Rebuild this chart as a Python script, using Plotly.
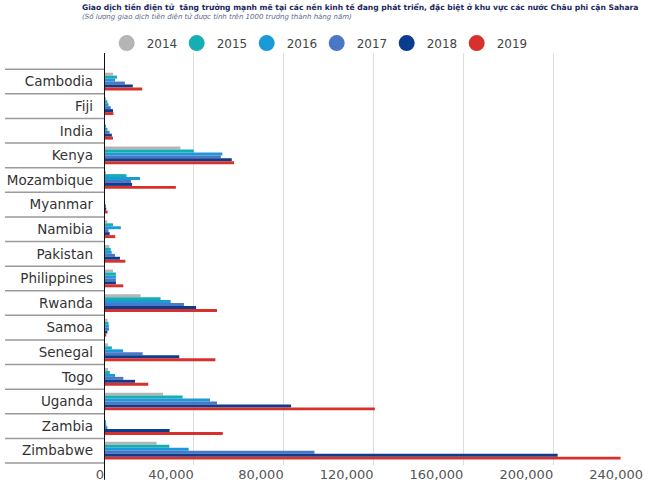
import plotly.graph_objects as go

countries = ["Cambodia", "Fiji", "India", "Kenya", "Mozambique", "Myanmar", "Namibia",
             "Pakistan", "Philippines", "Rwanda", "Samoa", "Senegal", "Togo", "Uganda",
             "Zambia", "Zimbabwe"]
years = ["2014", "2015", "2016", "2017", "2018", "2019"]

v2014 = [4000, 500, 300, 34000, 800, 0, 1500, 2400, 4000, 16300, 1500, 1800, 1800, 26300, 0, 23400]
v2015 = [5800, 1500, 800, 40000, 10000, 0, 4000, 3000, 5300, 25200, 2000, 3500, 2600, 35000, 500, 29100]
v2016 = [4900, 2000, 1500, 52700, 16000, 200, 7500, 3400, 5300, 29700, 2200, 8500, 4900, 47200, 1000, 37700]
v2017 = [9300, 3000, 2500, 52000, 12000, 500, 2000, 4900, 5300, 35600, 2200, 17200, 8600, 50300, 1500, 93700]
v2018 = [12800, 4000, 3500, 56900, 12500, 1000, 2500, 7100, 5300, 41000, 1500, 33500, 13800, 83300, 29200, 202000]
v2019 = [17000, 4200, 4000, 57900, 32000, 1600, 5000, 9500, 8600, 50300, 1000, 49600, 19700, 120600, 52900, 230000]
series = [v2014, v2015, v2016, v2017, v2018, v2019]

colors = ["#b5b5b5", "#17aeb3", "#1a9bd7", "#4a78c6", "#0b3c8e", "#d8302c"]

tick_vals = [0, 40000, 80000, 120000, 160000, 200000, 240000]
tick_text = ["0", "40,000", "80,000", "120,000", "160,000", "200,000", "240,000"]

title = ("Giao dịch tiền điện tử  tăng trưởng mạnh mẽ tại các nền kinh tế đang phát triển, "
         "đặc biệt ở khu vực các nước Châu phi cận Sahara")
subtitle = "(Số lượng giao dịch tiền điện tử được tính trên 1000 trưởng thành hàng năm)"

FONT = "DejaVu Sans"

fig = go.Figure()
for yr, vals, col in zip(years, series, colors):
    fig.add_trace(go.Bar(y=countries, x=vals, orientation="h", name=yr,
                         marker=dict(color=col, line=dict(width=0)), showlegend=False))
for yr, col in zip(years, colors):
    fig.add_trace(go.Scatter(x=[None], y=[None], mode="markers", name=yr,
                             marker=dict(color=col, size=16, symbol="circle")))

W, H = 650, 489
L, R, T, B = 104, 7, 53, 19
ph = H - T - B

# row separators in label area
shapes = []
for i in range(len(countries) + 1):
    shapes.append(dict(type="line", xref="paper", yref="y", x0=-99 / (W - L - R), x1=0,
                       y0=i - 0.5, y1=i - 0.5, line=dict(color="#9a9a9a", width=1.5)))
shapes.append(dict(type="line", xref="x", yref="paper", x0=0, x1=0, y0=-15 / ph, y1=1,
                   line=dict(color="#111", width=2)))

fig.update_layout(
    width=W, height=H,
    margin=dict(l=L, r=R, t=T, b=B),
    paper_bgcolor="white", plot_bgcolor="white",
    barmode="group", bargap=0.28, bargroupgap=0,
    font=dict(family=FONT, color="#333"),
    xaxis=dict(range=[0, 240000], tickvals=tick_vals, ticktext=tick_text,
               ticklabelposition="outside left", showgrid=True, gridcolor="#dedede",
               gridwidth=1, zeroline=False, showline=False, ticks="",
               tickfont=dict(family=FONT, size=13, color="#555")),
    yaxis=dict(range=[len(countries) - 0.42, -1.16], showgrid=False, zeroline=False,
               showline=False, ticks="", ticklabelstandoff=10,
               tickfont=dict(family=FONT, size=13.5, color="#333")),
    legend=dict(orientation="h", x=0.005, xanchor="left", y=1 + (T - 43) / ph,
                yanchor="middle", entrywidth=25, font=dict(family=FONT, size=12, color="#444"),
                bgcolor="rgba(0,0,0,0)", itemsizing="trace"),
    shapes=shapes,
    annotations=[
        dict(text="<b>" + title + "</b>", xref="paper", yref="paper", x=-24 / (W - L - R),
             y=1 + (T - 7) / ph, xanchor="left", yanchor="middle", showarrow=False,
             font=dict(family=FONT, size=7.6, color="#1c2a5c")),
        dict(text="<i>" + subtitle + "</i>", xref="paper", yref="paper", x=-24 / (W - L - R),
             y=1 + (T - 17) / ph, xanchor="left", yanchor="middle", showarrow=False,
             font=dict(family=FONT, size=7, color="#5a6a8a")),
    ],
)

fig.write_html("out.html")
